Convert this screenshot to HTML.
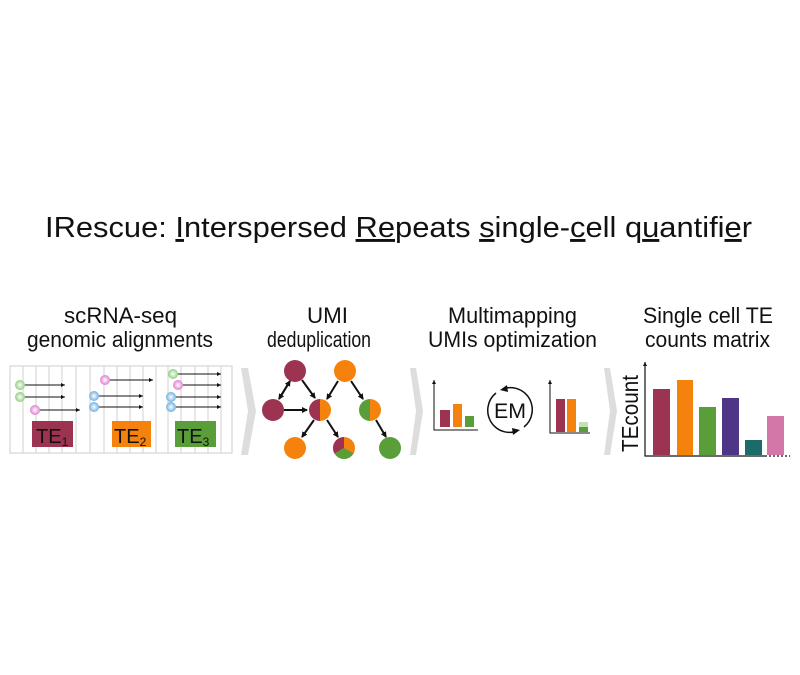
<!DOCTYPE html>
<html><head><meta charset="utf-8"><style>
html,body{margin:0;padding:0;background:#fff;}
svg{display:block;}
text{font-family:"Liberation Sans",sans-serif;fill:#111;}
</style></head><body>
<svg width="800" height="675" viewBox="0 0 800 675" xmlns="http://www.w3.org/2000/svg">
<defs>
<marker id="ah" markerWidth="6" markerHeight="6" refX="5" refY="3" orient="auto" markerUnits="userSpaceOnUse"><path d="M0,0 L6,3 L0,6 z" fill="#111"/></marker>
<marker id="as" markerWidth="4" markerHeight="4" refX="4" refY="2" orient="auto" markerUnits="userSpaceOnUse"><path d="M0,0 L4,2 L0,4 z" fill="#111"/></marker>
<radialGradient id="gg"><stop offset="0" stop-color="#fff"/><stop offset="1" stop-color="#8fd080"/></radialGradient>
<radialGradient id="gp"><stop offset="0" stop-color="#fff"/><stop offset="1" stop-color="#e080d0"/></radialGradient>
<radialGradient id="gb"><stop offset="0" stop-color="#fff"/><stop offset="1" stop-color="#70b0e0"/></radialGradient>
</defs>
<text x="45" y="237" font-size="29" textLength="707" lengthAdjust="spacingAndGlyphs">IRescue: <tspan text-decoration="underline">I</tspan>nterspersed <tspan text-decoration="underline">Re</tspan>peats <tspan text-decoration="underline">s</tspan>ingle-<tspan text-decoration="underline">c</tspan>ell q<tspan text-decoration="underline">u</tspan>antifi<tspan text-decoration="underline">e</tspan>r</text>
<g font-size="22">
<text x="64" y="323" textLength="113" lengthAdjust="spacingAndGlyphs">scRNA-seq</text>
<text x="27" y="347" textLength="186" lengthAdjust="spacingAndGlyphs">genomic alignments</text>
<text x="307" y="323" textLength="41" lengthAdjust="spacingAndGlyphs">UMI</text>
<text x="267" y="347" textLength="104" lengthAdjust="spacingAndGlyphs">deduplication</text>
<text x="448" y="323" textLength="129" lengthAdjust="spacingAndGlyphs">Multimapping</text>
<text x="428" y="347" textLength="169" lengthAdjust="spacingAndGlyphs">UMIs optimization</text>
<text x="643" y="323" textLength="130" lengthAdjust="spacingAndGlyphs">Single cell TE</text>
<text x="645" y="347" textLength="125" lengthAdjust="spacingAndGlyphs">counts matrix</text>
</g>
<!-- alignment panel -->
<rect x="10" y="366" width="222" height="87" fill="#fff" stroke="#ccc" stroke-width="1"/>
<g stroke="#d0d0d0" stroke-width="1">
<line x1="23" y1="366" x2="23" y2="453"/><line x1="36" y1="366" x2="36" y2="453"/><line x1="49" y1="366" x2="49" y2="453"/><line x1="62" y1="366" x2="62" y2="453"/><line x1="76" y1="366" x2="76" y2="453"/><line x1="90" y1="366" x2="90" y2="453"/><line x1="104" y1="366" x2="104" y2="453"/><line x1="117" y1="366" x2="117" y2="453"/><line x1="130" y1="366" x2="130" y2="453"/><line x1="143" y1="366" x2="143" y2="453"/><line x1="156" y1="366" x2="156" y2="453"/><line x1="168" y1="366" x2="168" y2="453"/><line x1="181" y1="366" x2="181" y2="453"/><line x1="195" y1="366" x2="195" y2="453"/><line x1="208" y1="366" x2="208" y2="453"/><line x1="221" y1="366" x2="221" y2="453"/>
</g>
<rect x="32" y="421" width="41" height="26" fill="#9c3350"/>
<rect x="112" y="421" width="39" height="26" fill="#f5820d"/>
<rect x="175" y="421" width="41" height="26" fill="#5a9e3a"/>
<g font-size="20" fill="#111">
<text x="36" y="443">TE<tspan font-size="12" dy="3">1</tspan></text>
<text x="114" y="443">TE<tspan font-size="12" dy="3">2</tspan></text>
<text x="177" y="443">TE<tspan font-size="12" dy="3">3</tspan></text>
</g>
<g stroke="#111" stroke-width="1" marker-end="url(#as)">
<line x1="24" y1="385" x2="65" y2="385"/><line x1="24" y1="397" x2="65" y2="397"/><line x1="39" y1="410" x2="80" y2="410"/>
<line x1="109" y1="380" x2="153" y2="380"/><line x1="98" y1="396" x2="143" y2="396"/><line x1="98" y1="407" x2="143" y2="407"/>
<line x1="177" y1="374" x2="221" y2="374"/><line x1="182" y1="385" x2="221" y2="385"/><line x1="175" y1="397" x2="221" y2="397"/><line x1="175" y1="407" x2="221" y2="407"/>
</g>
<g>
<circle cx="20" cy="385" r="5" fill="url(#gg)"/><circle cx="20" cy="397" r="5" fill="url(#gg)"/><circle cx="35" cy="410" r="5" fill="url(#gp)"/>
<circle cx="105" cy="380" r="5" fill="url(#gp)"/><circle cx="94" cy="396" r="5" fill="url(#gb)"/><circle cx="94" cy="407" r="5" fill="url(#gb)"/>
<circle cx="173" cy="374" r="5" fill="url(#gg)"/><circle cx="178" cy="385" r="5" fill="url(#gp)"/><circle cx="171" cy="397" r="5" fill="url(#gb)"/><circle cx="171" cy="407" r="5" fill="url(#gb)"/>
</g>
<!-- chevrons -->
<polygon points="241,368 248,368 256,411 248,455 241,455 248,411" fill="#ddd"/>
<polygon points="410,368 416,368 423,411 416,455 410,455 416,411" fill="#ddd"/>
<polygon points="604,368 610,368 617,411 610,455 604,455 610,411" fill="#ddd"/>
<!-- UMI graph -->
<g stroke="#111" stroke-width="2" marker-end="url(#ah)">
<line x1="290" y1="381" x2="279" y2="399"/><line x1="279" y1="399" x2="290" y2="381" marker-end="url(#ah)"/>
<line x1="302" y1="380" x2="315" y2="398"/><line x1="338" y1="381" x2="327" y2="399"/>
<line x1="284" y1="410" x2="307" y2="410"/><line x1="351" y1="381" x2="363" y2="399"/>
<line x1="314" y1="420" x2="302" y2="437"/><line x1="327" y1="420" x2="338" y2="437"/><line x1="376" y1="420" x2="386" y2="437"/>
</g>
<circle cx="295" cy="371" r="11" fill="#9c3350"/>
<circle cx="345" cy="371" r="11" fill="#f5820d"/>
<circle cx="273" cy="410" r="11" fill="#9c3350"/>
<path d="M320,399 A11,11 0 0 0 320,421 z" fill="#9c3350"/><path d="M320,399 A11,11 0 0 1 320,421 z" fill="#f5820d"/>
<path d="M370,399 A11,11 0 0 0 370,421 z" fill="#5a9e3a"/><path d="M370,399 A11,11 0 0 1 370,421 z" fill="#f5820d"/>
<circle cx="295" cy="448" r="11" fill="#f5820d"/>
<circle cx="344" cy="448" r="11" fill="#f5820d"/>
<path d="M344,448 L344,437 A11,11 0 0 0 334.5,453.5 z" fill="#9c3350"/>
<path d="M344,448 L334.5,453.5 A11,11 0 0 0 353.5,453.5 z" fill="#5a9e3a"/>
<circle cx="390" cy="448" r="11" fill="#5a9e3a"/>
<!-- small charts -->
<g stroke="#111" stroke-width="1" fill="none">
<polyline points="434,384 434,430 478,430"/><line x1="434" y1="384" x2="434" y2="380" marker-end="url(#as)"/>
<polyline points="550,384 550,433 590,433"/><line x1="550" y1="384" x2="550" y2="380" marker-end="url(#as)"/>
</g>
<rect x="440" y="410" width="10" height="17" fill="#9c3350"/>
<rect x="453" y="404" width="9" height="23" fill="#f5820d"/>
<rect x="465" y="416" width="9" height="11" fill="#5a9e3a"/>
<rect x="556" y="399" width="9" height="33" fill="#9c3350"/>
<rect x="567" y="399" width="9" height="33" fill="#f5820d"/>
<rect x="579" y="422" width="9" height="10" fill="#c5dfb8"/>
<rect x="579" y="427" width="9" height="5" fill="#5a9e3a"/>
<path d="M506,388 A22,22 0 0 1 532,413 A22,22 0 0 1 524,427" stroke="#111" stroke-width="1.5" fill="none"/>
<path d="M514,432 A22,22 0 0 1 488,407 A22,22 0 0 1 496,393" stroke="#111" stroke-width="1.5" fill="none"/>
<path d="M500,390 L507,385 L508,392 z" fill="#111"/>
<path d="M520,430 L513,435 L512,428 z" fill="#111"/>
<text x="494" y="418" font-size="21" textLength="32" lengthAdjust="spacingAndGlyphs">EM</text>
<!-- big chart -->
<g stroke="#111" stroke-width="1.2" fill="none">
<polyline points="645,368 645,456 765,456"/>
<line x1="645" y1="368" x2="645" y2="362" marker-end="url(#as)"/>
<line x1="765" y1="456" x2="790" y2="456" stroke-dasharray="2,2"/>
</g>
<rect x="653" y="389" width="17" height="66" fill="#9c3350"/>
<rect x="677" y="380" width="16" height="75" fill="#f5820d"/>
<rect x="699" y="407" width="17" height="48" fill="#5a9e3a"/>
<rect x="722" y="398" width="17" height="57" fill="#4f3585"/>
<rect x="745" y="440" width="17" height="15" fill="#1c6b6b"/>
<rect x="767" y="416" width="17" height="39" fill="#d277a7"/>
<text transform="translate(638,452) rotate(-90)" font-size="23" textLength="77" lengthAdjust="spacingAndGlyphs">TEcount</text>
</svg>
</body></html>
